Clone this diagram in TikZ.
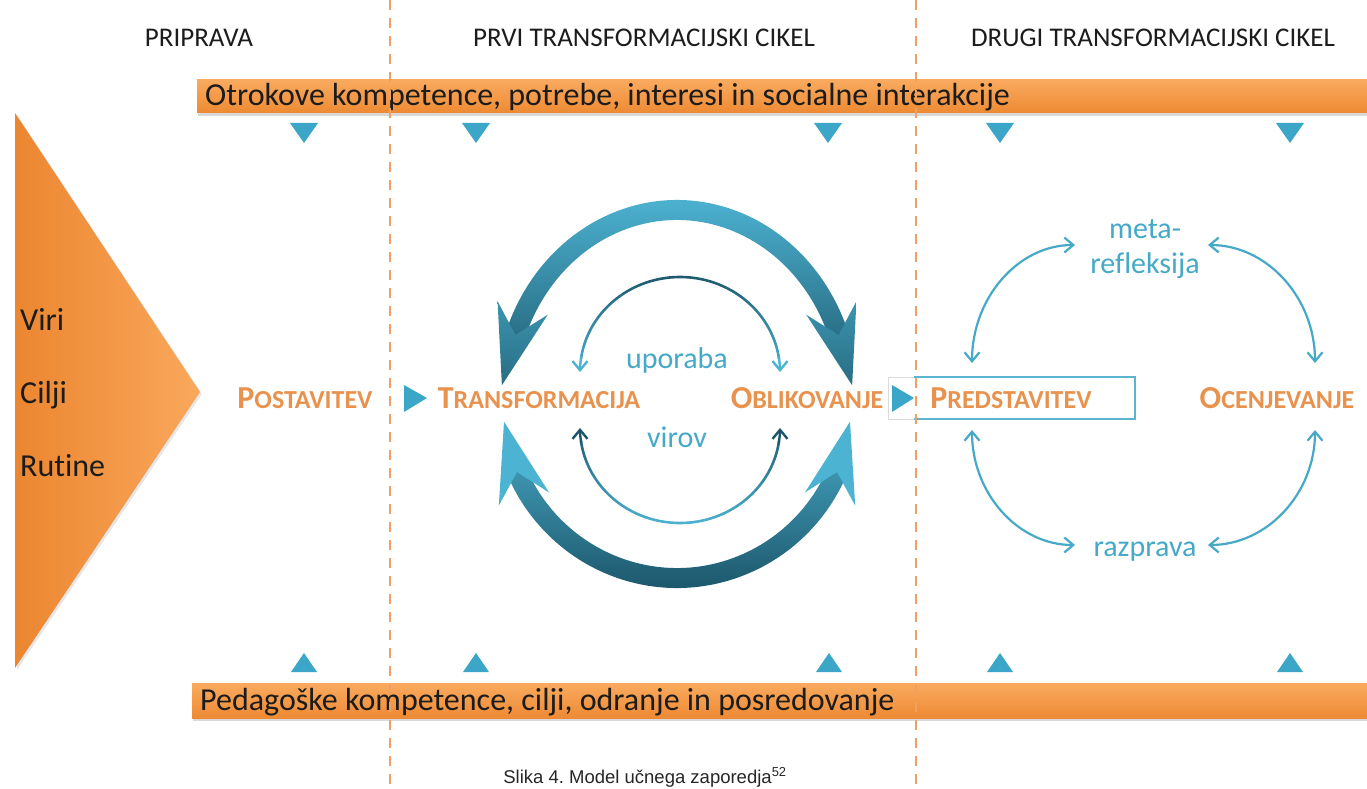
\documentclass[tikz,border=0pt]{standalone}
\usepackage{fontspec}
\setmainfont{Carlito}[Ligatures=NoCommon]
\newfontfamily\capfont{Liberation Sans}
\usetikzlibrary{arrows.meta,shadows}
\frenchspacing

\definecolor{ink}{HTML}{1C1C1C}
\definecolor{barhi}{HTML}{F9AA5F}
\definecolor{barlo}{HTML}{EE8A33}
\definecolor{wedgeL}{HTML}{EC8630}
\definecolor{wedgeR}{HTML}{F9A85C}
\definecolor{labor}{HTML}{E8924E}
\definecolor{tri}{HTML}{3BA6C8}
\definecolor{cyc}{HTML}{45A9C7}
\definecolor{arcL}{HTML}{4DB3D2}
\definecolor{arcD}{HTML}{1C566A}
\definecolor{dashor}{HTML}{F0A062}
\definecolor{boxblue}{HTML}{5CB4D0}

% stage label in small capitals: large initial, smaller rest
\newcommand\stagetext[2]{{\fontsize{32}{34}\selectfont #1}{\fontsize{26}{34}\selectfont #2}}

\begin{document}
\begin{tikzpicture}[x=1pt,y=-1pt,
  header/.style={anchor=base, text=ink, font=\fontsize{27}{30}\selectfont, inner sep=0},
  bartext/.style={anchor=base west, text=ink, font=\fontsize{32}{34}\selectfont, inner sep=0},
  sidetext/.style={anchor=base west, text=ink, font=\fontsize{32}{34}\selectfont, inner sep=0},
  stage/.style={anchor=base, text=labor, font=\bfseries, inner sep=0},
  cyctext/.style={anchor=base, text=cyc, font=\fontsize{30}{36}\selectfont, inner sep=0},
  bar/.style={top color=barhi, bottom color=barlo,
    drop shadow={opacity=0.3, shadow xshift=1pt, shadow yshift=-3pt}},
  cycarrow/.style={cyc, line width=2.2pt,
    {Straight Barb[length=9pt,width=15pt]}-{Straight Barb[length=9pt,width=15pt]}},
  thinhead/.style={line width=2.4pt, -{Straight Barb[length=9pt,width=15pt]}},
]
\useasboundingbox (0,0) rectangle (1367,789);

% ---------- column headers ----------
\node[header] (h1) at (199,47) {PRIPRAVA};
\node[header] (h2) at (644,47) {PRVI TRANSFORMACIJSKI CIKEL};
\node[header] (h3) at (1153,47) {DRUGI TRANSFORMACIJSKI CIKEL};

% ---------- orange bars ----------
\path[bar] (197,80) rectangle (1372,113);
\node[bartext] (topbar) at (205,106) {Otrokove kompetence, potrebe, interesi in socialne interakcije};
\path[bar] (192,683) rectangle (1372,718);
\node[bartext] (botbar) at (200,710) {Pedagoške kompetence, cilji, odranje in posredovanje};

% small blue triangles below and above the bars
\foreach \x in {304,476,828,1000,1290}
  \fill[tri] (\x-14,123) -- (\x+14,123) -- (\x,143) -- cycle;
\foreach \x in {304,476,829,1000,1290}
  \fill[tri] (\x-13,672) -- (\x+13,672) -- (\x,653) -- cycle;

% ---------- left wedge ----------
\path[left color=wedgeL, right color=wedgeR,
  drop shadow={opacity=0.2, shadow xshift=2pt, shadow yshift=-2pt}]
  (15,113) -- (200,392) -- (15,668) -- cycle;
\node[sidetext] (viri) at (20,330) {Viri};
\node[sidetext] (cilji) at (20,403) {Cilji};
\node[sidetext] (rutine) at (20,476) {Rutine};

% ---------- stage labels ----------
\draw[black!14, line width=1pt] (888,377) rectangle (1135,419);
\draw[boxblue, line width=1.6pt] (914,377) -- (1135,377) -- (1135,419) -- (914,419);
\node[stage] (post) at (305,408) {\stagetext{P}{OSTAVITEV}};
\node[stage] (trans) at (539,408) {\stagetext{T}{RANSFORMACIJA}};
\node[stage] (obl) at (807,408) {\stagetext{O}{BLIKOVANJE}};
\node[stage] (pred) at (1011,408) {\stagetext{P}{REDSTAVITEV}};
\node[stage] (ocen) at (1277,408) {\stagetext{O}{CENJEVANJE}};
\fill[tri] (404,385) -- (427,398) -- (404,412) -- cycle;
\fill[tri] (892,385) -- (914,398) -- (892,412) -- cycle;

% ---------- first cycle: thick outer arrows ----------
% upper arc, light at its crown, dark towards both heads
\begin{scope}
  \clip ([shift={(677,400)}]-162:182 and 200) arc[start angle=-162, end angle=-18, x radius=182, y radius=200]
     -- ([shift={(677,400)}]-18:162 and 180) arc[start angle=-18, end angle=-162, x radius=162, y radius=180] -- cycle;
  \shade[top color=arcL, bottom color=arcD] (470,195) rectangle (885,390);
\end{scope}
\begin{scope}[shift={(515.4,335)}, x={(-0.26pt,-0.966pt)}, y={(0.966pt,-0.26pt)}]
  \clip (52,0) -- (-28,26) -- (0,0) -- (-28,-26) -- cycle;
  \shade[top color=arcL, bottom color=arcD] (-80,-80) rectangle (80,80);
\end{scope}
\begin{scope}[shift={(838.6,335)}, x={(0.26pt,-0.966pt)}, y={(-0.966pt,-0.26pt)}]
  \clip (52,0) -- (-28,26) -- (0,0) -- (-28,-26) -- cycle;
  \shade[top color=arcL, bottom color=arcD] (-80,-80) rectangle (80,80);
\end{scope}

% lower arc, dark at its base, light towards both heads
\begin{scope}
  \clip ([shift={(677,400)}]22:185 and 188) arc[start angle=22, end angle=158, x radius=185, y radius=188]
     -- ([shift={(677,400)}]158:165 and 168) arc[start angle=158, end angle=22, x radius=165, y radius=168] -- cycle;
  \shade[top color=arcL, bottom color=arcD] (470,410) rectangle (885,592);
\end{scope}
\begin{scope}[shift={(517,472)}, x={(-0.25pt,0.968pt)}, y={(0.968pt,0.25pt)}]
  \clip (52,0) -- (-28,26) -- (0,0) -- (-28,-26) -- cycle;
  \fill[arcL] (-80,-80) rectangle (80,80);
\end{scope}
\begin{scope}[shift={(837,472)}, x={(0.25pt,0.968pt)}, y={(-0.968pt,0.25pt)}]
  \clip (52,0) -- (-28,26) -- (0,0) -- (-28,-26) -- cycle;
  \fill[arcL] (-80,-80) rectangle (80,80);
\end{scope}

% ---------- first cycle: thin inner arrows ----------
\begin{scope}
  \clip ([shift={(680,372)}]-172:101.3 and 96.3) arc[start angle=-172, end angle=-8, x radius=101.3, y radius=96.3]
     -- ([shift={(680,372)}]-8:98.7 and 93.7) arc[start angle=-8, end angle=-172, x radius=98.7, y radius=93.7] -- cycle;
  \shade[top color=arcD, bottom color=arcL] (575,272) rectangle (785,372);
\end{scope}
\draw[thinhead, arcL] ([shift={(680,372)}]-171:100 and 95) arc[start angle=-171, end angle=-180, x radius=100, y radius=95];
\draw[thinhead, arcL] ([shift={(680,372)}]-9:100 and 95) arc[start angle=-9, end angle=0, x radius=100, y radius=95];

\begin{scope}
  \clip ([shift={(680,428)}]8:101.3 and 96.3) arc[start angle=8, end angle=172, x radius=101.3, y radius=96.3]
     -- ([shift={(680,428)}]172:98.7 and 93.7) arc[start angle=172, end angle=8, x radius=98.7, y radius=93.7] -- cycle;
  \shade[top color=arcD, bottom color=arcL] (575,428) rectangle (785,525);
\end{scope}
\draw[thinhead, arcD] ([shift={(680,428)}]171:100 and 95) arc[start angle=171, end angle=180, x radius=100, y radius=95];
\draw[thinhead, arcD] ([shift={(680,428)}]9:100 and 95) arc[start angle=9, end angle=0, x radius=100, y radius=95];

\node[cyctext] (upor) at (677,368) {uporaba};
\node[cyctext] (virov) at (677,447) {virov};

% ---------- second cycle ----------
\node[cyctext] (meta) at (1145,238) {meta-};
\node[cyctext] (refl) at (1145,273) {refleksija};
\node[cyctext] (razp) at (1145,556) {razprava};
\draw[cycarrow] ([shift={(1075,363)}]-180:103 and 118) arc[start angle=-180, end angle=-90, x radius=103, y radius=118];
\draw[cycarrow] ([shift={(1208,363)}]-90:107 and 118) arc[start angle=-90, end angle=0, x radius=107, y radius=118];
\draw[cycarrow] ([shift={(1075,430)}]180:103 and 115) arc[start angle=180, end angle=90, x radius=103, y radius=115];
\draw[cycarrow] ([shift={(1208,430)}]90:107 and 115) arc[start angle=90, end angle=0, x radius=107, y radius=115];

% ---------- phase separators ----------
\draw[dashor, line width=2pt, dash pattern=on 10pt off 8pt] (390,0) -- (390,789);
\draw[dashor, line width=2pt, dash pattern=on 10pt off 8pt] (916,0) -- (916,789);

% ---------- caption ----------
\node[anchor=base, inner sep=0, text=black!85, font=\capfont\fontsize{18.5}{20}\selectfont] (cap) at (645,783)
  {Slika 4. Model učnega zaporedja\textsuperscript{52}};
\end{tikzpicture}
\end{document}
